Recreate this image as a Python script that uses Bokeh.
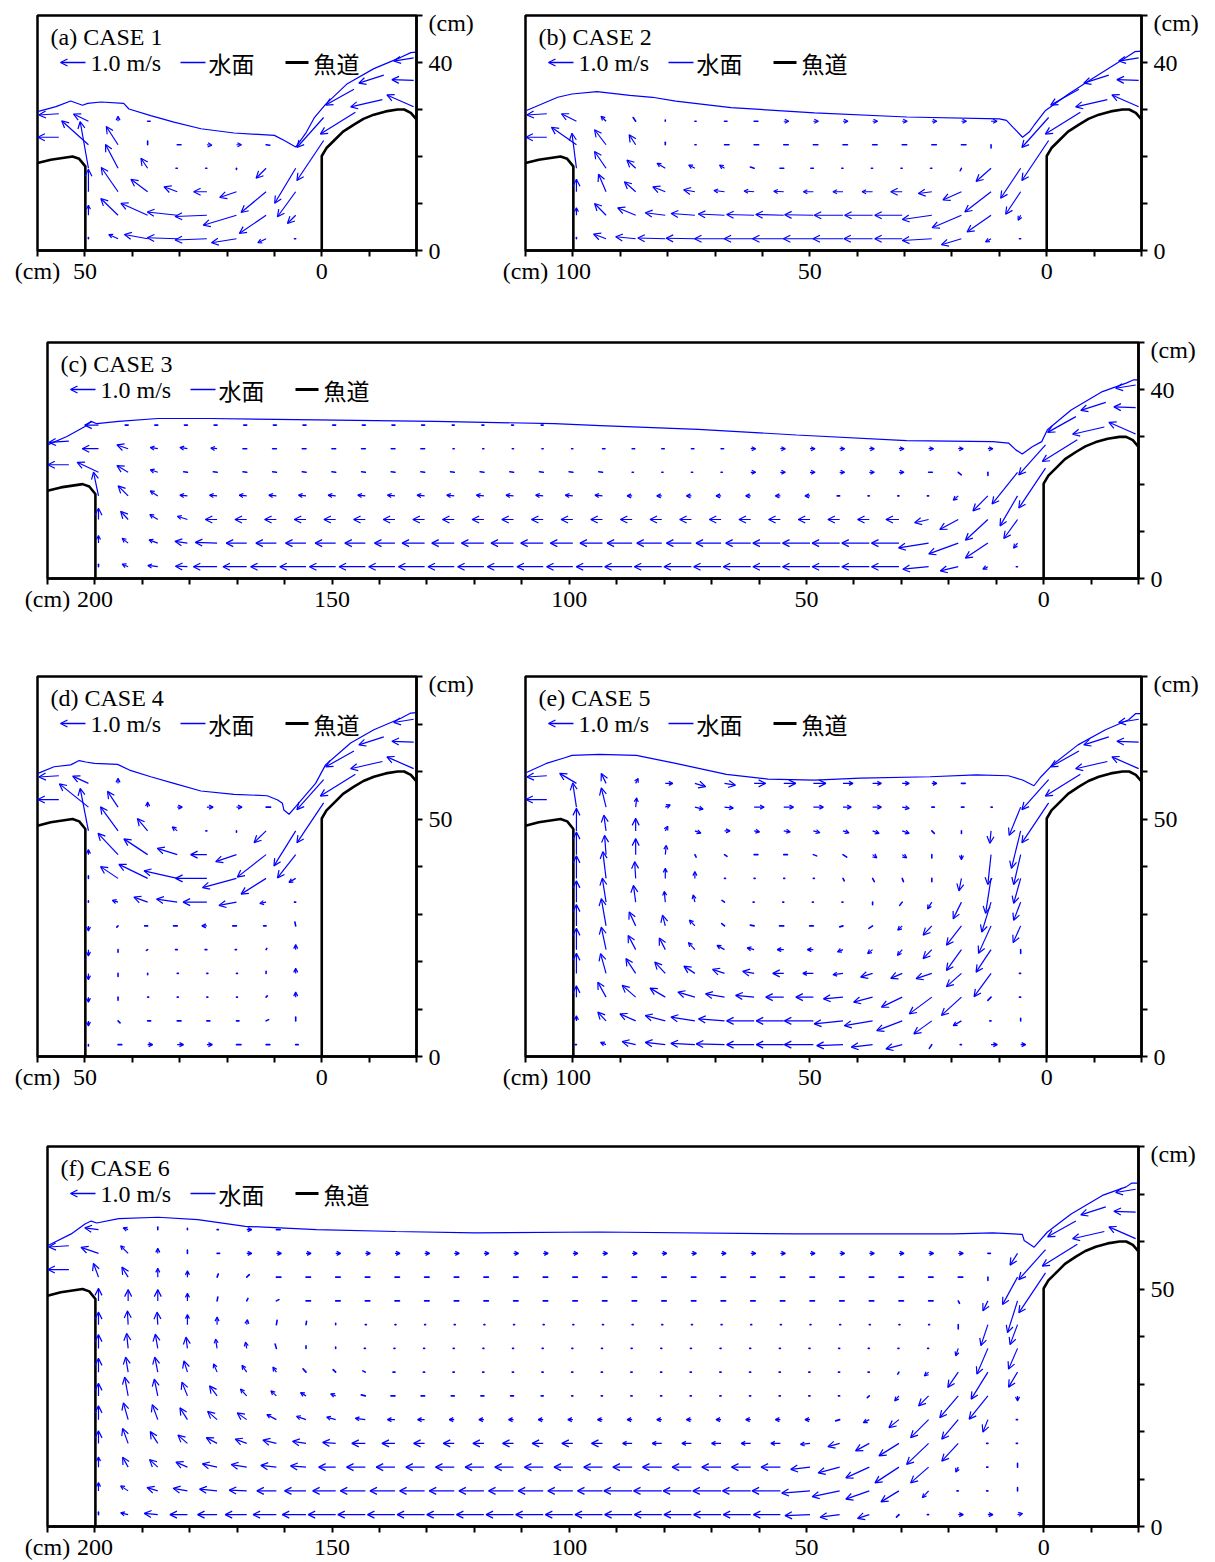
import math
from bokeh.plotting import figure
from bokeh.models import (Range1d, FixedTicker, Label, Arrow, OpenHead, ColumnDataSource,
                          CustomJSTickFormatter)
from bokeh.layouts import column, row
from bokeh.embed import file_html
from bokeh.resources import INLINE

# ---------------------------------------------------------------- data
CASES = ["(a) CASE 1", "(b) CASE 2", "(c) CASE 3", "(d) CASE 4", "(e) CASE 5", "(f) CASE 6"]
POOL_LENGTH = [50, 100, 200, 50, 100, 200]          # cm
WEIR_HEIGHT = [20, 20, 20, 50, 50, 50]              # cm (vertical wall of the fishway)
Y_MAX = [50, 50, 50, 80, 80, 80]
X_TICK_LABELS = [[0, 50], [0, 50, 100], [0, 50, 100, 150, 200],
                 [0, 50], [0, 50, 100], [0, 50, 100, 150, 200]]
Y_TICK_LABELS = [[0, 40], [0, 40], [0, 40], [0, 50], [0, 50], [0, 50]]
UNIT = "(cm)"
LEGEND_LABELS = ["1.0 m/s", "水面", "魚道"]

# measuring grid of the pool vectors (cm)
GRID_X0, GRID_DX = 5.5, 6.25
GRID_Y0, GRID_DY = 2.5, 5.0

# weir crest outline, relative to a 20 cm wall
LEFT_WEIR_DX = [10.0, 7.2, 2.6, 1.2, -0.1]
LEFT_WEIR_Y = [18.6, 19.3, 20.0, 19.5, 17.9]
RIGHT_WEIR_X = [0.0, -1.0, -2.6, -4.5, -6.8, -8.8, -11.0, -13.5, -16.0, -17.4, -18.8, -20.0]
RIGHT_WEIR_Y = [20.1, 21.8, 23.4, 25.3, 26.8, 28.0, 28.9, 29.6, 30.0, 30.0, 29.3, 27.9]

# vectors over the upstream weir (same in every case, relative to a 20 cm wall)
WEIR_X = [-19.4, -19.4, -19.4, -13.1, -12.8, -6.8, -7.1, -0.4, -0.4]
WEIR_Y = [41.0, 36.2, 30.6, 37.3, 32.1, 34.3, 29.4, 28.3, 23.4]
WEIR_U = [-0.8, -0.87, -1.07, -1.0, -1.27, -1.13, -1.4, -1.07, -1.07]
WEIR_V = [-0.13, 0.03, 0.47, -0.32, -0.29, -0.63, -0.87, -1.2, -1.6]
# vectors over the downstream weir (x relative to the pool length)
OUT_DX = [5.5, 5.5]
OUT_Y = [29.1, 24.1]
OUT_U = [-0.8, -0.84]
OUT_V = [-0.05, 0.0]

# pool velocity (m/s) "u,v" per grid point, u positive toward the right of the picture,
# one string per grid row from the bottom (y = 2.5 cm) upward; n = no vector; *k = repeated
A_UV = [
    "-0.05,0 -0.33,-0.16 -1.0,-0.16 -1.27,-0.05 -1.2,0.04 -0.93,0.17 -0.37,0.17 0,0.05",
    "-0.33,-0.33 -1.07,-0.73 -1.33,-0.4 -1.27,-0.05 -1.2,0.13 -1.07,0.48 -0.69,0.67 0,0.4",
    "-0.73,-1.0 -1.0,-0.83 -0.67,-0.23 -0.53,0 -0.53,0.2 -0.67,0.5 -0.67,0.97 0,0.9",
    "-0.84,-1.4 -0.4,-0.4 0,-0.05 -0.05,0 -0.05,0 -0.27,0.4 -0.5,0.95 -0.33,1.87",
    "n 0.15,-0.02 0.2,0 0.2,-0.02 0.15,0 0,0.15 -0.47,0.73 -1.07,0.96",
    "n n n n n 0.1,0 0,0.2 -0.6,0.29",
]
B_UV = [
    "-0.05,0 -0.22,-0.13 -0.8,-0.24 -1.18,-0.07 -1.1,0 -1.15,0 -1.2,0 -1.2,0 -1.25,0 -1.2,0 -1.2,0 -1.15,0.02 -1.1,0.03 -0.8,0.08 -0.5,0.19 0,0.05",
    "-0.1,-0.2 -0.96,-0.67 -1.17,-0.5 -1.18,-0.17 -1.1,0 -1.12,0 -1.15,0 -1.15,0.02 -1.12,0.03 -1.1,0.03 -1.05,0.05 -0.95,0.07 -0.8,0.1 -0.72,0.3 -0.46,0.47 0,0.3",
    "-0.6,-0.9 -1.05,-0.81 -0.74,-0.33 -0.54,-0.07 -0.46,0 -0.42,0 -0.4,0 -0.4,0 -0.4,0.02 -0.4,0.03 -0.42,0.05 -0.45,0.08 -0.5,0.2 -0.45,0.4 -0.3,0.7 0,0.5",
    "-0.8,-1.2 -0.6,-0.53 -0.05,-0.1 -0.05,0 -0.05,0 -0.05,0 -0.05,0 -0.1,0 -0.15,0 -0.15,0.05 -0.2,0.13 -0.25,0.13 -0.33,0.2 -0.35,0.33 -0.46,0.67 -0.18,1.4",
    "n 0,-0.13 0.18,0 0.18,0*8 0.05,0 0,0.1 -0.26,0.4 -0.46,0.6 -1.0,0.7",
    "n 0.24,0 0.2,0*7 0.15,0 0.1,0 0.05,0 0,0.05 -0.1,0.15 -0.2,0.2 -0.6,0.3",
]
C_UV = [
    "-0.05,0 -0.2,-0.1 -0.72,-0.17 -1.03,-0.1 -1.1,0*10 -1.05,0*11 -1.03,0 -0.95,0 -0.95,0 -0.48,0.02 -0.4,0.05 -0.24,0.1 0,0.1",
    "-0.16,-0.2 -0.9,-0.6 -1.18,-0.43 -1.2,-0.19 -1.1,0*5 -1.0,0*5 -0.9,0*7 -0.82,0*6 -0.87,0.03 -0.5,0.07 -0.35,0.13 -0.24,0.19 0,0.3",
    "-0.55,-0.76 -0.9,-0.83 -0.74,-0.4 -0.56,-0.13 -0.52,0 -0.47,0*23 -0.4,0.13 -0.32,0.2 -0.3,0.33 0,0.45",
    "-0.7,-1.2 -0.6,-0.6 -0.2,-0.17 -0.05,0 -0.05,0 -0.05,0 -0.1,0 -0.2,0*7 -0.3,0.03*15 -0.3,0.2 -0.4,0.4 -0.2,0.95",
    "-1.02,-1.27 0,-0.13 0.12,-0.1 0.15,0 0.2,0*6 0.05,0*4 -0.15,0.02*15 -0.3,0.1 -0.45,0.27 -0.85,0.4",
    "n 0.2,0 0.2,0*8 0.1,0*5 -0.05,0*5 -0.15,0*7 -0.25,0.03 -0.3,0.05 -0.3,0.05 -0.45,0.15 -0.65,0",
    "n*16 -0.08,0*4 -0.12,0*11 -0.55,0",
]
D_UV = [
    "0.1,0 0.15,0 0.18,0 0.22,0 0.25,0 0.2,0 0.15,0 0,-0.05",
    "0,0.15 0.1,0.05 0.1,0 0.12,0 0.15,0 0.12,0 0.08,-0.08 0,-0.2",
    "0,0.2 0.05,0.05 0.04,0 0.04,0 0.04,0 0.04,0 0,-0.12 0,-0.2",
    "0,0.2 0,0.08 0.04,0 0.04,0 0.04,0 0,-0.05 0,-0.12 0,-0.25",
    "0,0.2 0.03,0.05 -0.05,0 -0.07,0 -0.07,0 -0.05,-0.03 0,-0.1 0,-0.25",
    "-0.03,0.15 -0.1,0 -0.15,0 -0.2,0 -0.15,0 -0.12,0 -0.05,-0.05 0,-0.2",
    "-0.05,0 -0.25,-0.05 -0.7,-0.13 -0.95,0 -0.83,0.12 -0.55,0.2 -0.23,0.07 0,0.05",
    "-0.27,-0.16 -1.0,-0.63 -1.36,-0.37 -1.25,0 -1.33,0.3 -1.15,0.56 -0.7,0.47 0,0.1",
    "-0.73,-0.93 -1.15,-0.9 -0.83,-0.28 -0.65,0 -0.8,0.25 -0.95,0.63 -0.8,0.85 0,0.2",
    "-0.87,-1.4 -0.48,-0.47 0,-0.05 -0.04,0 -0.2,0.16 -0.41,0.49 -0.7,0.96 -0.33,1.7",
    "n 0.18,0 0.22,0 0.25,0 0.2,0 0,0.2 -0.42,0.63 -1.16,0.93",
    "n n n n n n 0,0.2 -0.63,0.29",
]
E_UV = [
    "0.2,0 0.25,0 -0.05,0 -0.1,-0.15 -0.65,-0.17 -0.85,-0.1 -1.05,-0.04 -1.16,0 -1.1,0 -1.1,0 -1.13,0.03 -0.96,0.05 -0.8,0.09 -0.54,0.12 -0.22,0.09 -0.05,0",
    "0,0.1 -0.05,0 -0.33,-0.19 -0.72,-0.52 -1.02,-0.39 -1.13,-0.19 -1.15,-0.12 -1.16,0 -1.1,0 -1.1,0 -1.04,0.08 -0.96,0.15 -0.8,0.21 -0.63,0.28 -0.33,0.35 0,0.2",
    "-0.05,0 -0.13,-0.13 -0.8,-0.73 -0.9,-0.67 -0.83,-0.4 -0.76,-0.2 -0.78,-0.07 -0.7,0 -0.72,0 -0.74,0.07 -0.76,0.13 -0.68,0.2 -0.61,0.36 -0.54,0.47 -0.33,0.6 0,0.45",
    "-0.05,0 -0.68,-0.93 -0.6,-0.53 -0.63,-0.21 -0.46,-0.2 -0.48,-0.15 -0.4,-0.05 -0.42,0 -0.44,0 -0.46,0.08 -0.48,0.16 -0.44,0.29 -0.42,0.45 -0.39,0.59 -0.22,0.79 0,0.8",
    "0,-0.15 -0.6,-0.9 -0.6,-0.83 -0.35,-0.36 -0.19,-0.23 -0.2,-0.16 -0.22,-0.09 -0.24,0 -0.26,0 -0.28,0.07 -0.3,0.17 -0.26,0.28 -0.24,0.47 -0.3,0.57 -0.19,0.9 0,0.85",
    "-0.3,-0.67 -0.5,-1.1 -0.6,-0.77 -0.35,-0.37 -0.18,-0.17 -0.15,-0.1 -0.13,-0.04 -0.15,0 -0.17,0 -0.15,0.03 -0.11,0.09 -0.22,0.23 -0.11,0.43 -0.26,0.56 -0.19,1.09 0,0.85",
    "-0.28,-0.73 -0.37,-1.2 -0.33,-0.67 -0.17,-0.27 -0.1,-0.13 0,-0.1 -0.04,0 -0.04,0 -0.04,0 -0.04,0 -0.1,0.07 -0.07,0.29 -0.04,0.43 -0.09,0.67 -0.15,0.96 0,0.85",
    "-0.28,-1.0 -0.22,-1.4 -0.1,-0.5 0,-0.13 0.05,-0.13 0.07,-0.13 0.05,-0.1 0.04,0 0.04,0 0.04,0 0.04,0 0,0.27 0,0.4 -0.04,0.67 -0.13,1.07 0,0.9",
    "-0.28,-1.2 -0.13,-1.2 0,-0.2 0,-0.13 0.18,-0.13 0.17,-0.13 0.15,-0.1 0.13,-0.05 0.15,0 0.15,0 0.1,-0.07 0.05,-0.1 0.04,0.37 0,0.64 -0.06,0.77 0,0.9",
    "-0.37,-1.5 -0.05,-0.5 0,-0.1 0.1,-0.1 0.28,-0.1 0.26,-0.1 0.24,-0.08 0.26,-0.07 0.26,-0.04 0.22,-0.04 0.22,0 0.24,-0.09 0.1,0.19 0,0.5 -0.09,0.63 0,0.9",
    "-0.46,-1.13 0.05,0 0.1,0 0.1,0 0.28,-0.05 0.35,0 0.33,0 0.4,0 0.39,0 0.4,0 0.35,-0.04 0.33,-0.08 0.2,0.09 0.04,0.37 -0.19,0.77 -0.15,0.97",
    "n n 0.15,0 0.2,0 0.28,0 0.35,0 0.4,0 0.5,0 0.48,0 0.46,0 0.44,-0.07 0.43,-0.13 0.3,0 0.1,0.2 -0.19,0.4 -0.67,0.4",
]
F_UV = [
    "0.2,0.04 0.2,0 0.2,0 -0.05,0 -0.1,-0.1 -0.47,-0.15 -0.78,-0.1 -1.0,-0.04 -1.08,0 -1.1,0*15 -0.95,0 -0.93,0 -0.86,0 -0.78,0 -0.7,0 -0.54,0.05 -0.3,0.07 0,0.1",
    "0,0.13 -0.05,0 -0.05,0 -0.25,-0.27 -0.72,-0.44 -0.94,-0.33 -1.1,-0.23 -1.13,-0.09 -1.13,0*6 -1.0,0*9 -0.92,0 -0.86,0 -0.78,0 -0.7,0.03 -0.7,0.07 -0.57,0.1 -0.43,0.13 -0.3,0.2 0,0.33",
    "0,0.15 -0.05,0 -0.1,-0.2 -0.72,-0.63 -0.96,-0.63 -0.94,-0.43 -0.86,-0.23 -0.77,-0.09 -0.77,0*6 -0.75,0*9 -0.68,0 -0.62,0.05 -0.62,0.07 -0.62,0.1 -0.59,0.13 -0.46,0.2 -0.33,0.3 -0.22,0.4 0,0.4",
    "-0.05,0 -0.05,0 -0.66,-0.71 -0.88,-0.84 -0.8,-0.5 -0.55,-0.3 -0.47,-0.13 -0.38,-0.04 -0.38,0*6 -0.44,0*7 -0.52,0 -0.54,0 -0.52,0.04 -0.54,0.08 -0.54,0.13 -0.46,0.17 -0.43,0.23 -0.38,0.33 -0.3,0.47 -0.22,0.6 0,0.5",
    "-0.05,0 -0.2,-0.5 -0.66,-0.78 -0.72,-0.72 -0.4,-0.32 -0.24,-0.12 -0.16,-0.05 -0.2,0*13 -0.28,0 -0.3,0 -0.4,0.05 -0.36,0.1 -0.38,0.13 -0.38,0.2 -0.38,0.27 -0.38,0.33 -0.3,0.47 -0.22,0.6 -0.19,0.67 0,0.55",
    "0,-0.2 -0.75,-0.93 -0.74,-0.87 -0.4,-0.4 -0.17,-0.2 -0.08,-0.07 -0.05,0*10 -0.08,0 -0.12,0*3 -0.14,0 -0.16,0 -0.16,0.04 -0.2,0.08 -0.22,0.13 -0.22,0.2 -0.25,0.27 -0.3,0.4 -0.22,0.55 -0.14,0.67 -0.14,0.75 0,0.5",
    "-0.36,-0.6 -0.67,-1.08 -0.42,-0.61 -0.17,-0.15 -0.05,-0.08 -0.05,0*16 -0.08,0 -0.1,0.05 -0.1,0.1 -0.12,0.13 -0.14,0.2 -0.19,0.27 -0.14,0.33 -0.14,0.45 -0.12,0.6 -0.1,0.6 0,0.55",
    "-0.36,-0.83 -0.44,-1.03 -0.1,-0.3 -0.04,0*20 0,0.05 0,0.1 -0.05,0.17 -0.05,0.25 -0.06,0.37 -0.06,0.45 -0.1,0.57 -0.06,0.6 0,0.55",
    "-0.3,-0.8 -0.28,-0.84 0,-0.17 0.04,0*20 0,0.05 0.02,0.13 0.03,0.17 0.03,0.2 0,0.3 0,0.4 -0.03,0.5 -0.03,0.55 0,0.5",
    "-0.4,-1.27 -0.2,-0.4 0.05,-0.1 0.18,0*22 0.1,0.05 0.05,0.1 0.03,0.15 0,0.3 0,0.45 0,0.45 0,0.5",
    "-0.6,-1.1 0,-0.13 0.18,0*24 0.1,0.1 0.05,0.13 0,0.25 0,0.35 -0.25,0.4 -0.2,0.55",
    "-0.3,-0.47 0.1,0 0.2,0*25 0.1,0 0,0.13 0,0.2 -0.3,0.3 -0.7,0.24",
    "n*25 0.15,0 0.2,0 0.05,0 0,0.05 0,0.1 -0.2,0.07 -0.55,0.07",
]

# water surface (cm)
SURF_A_X = [59.8, 56.1, 53.0, 50.5, 49.4, 46.6, 41.8, 40.7, 36.1, 31.2, 25.5, 18.5, 10.0, 7.9, 5.5, 3.4, 1.6, -0.8, -5.4, -11.0, -16.7, -18.8, -20.0]
SURF_A_Y = [29.6, 30.6, 31.8, 30.9, 31.3, 31.6, 31.3, 30.1, 28.7, 27.3, 25.9, 25.0, 24.5, 23.4, 22.0, 24.9, 28.2, 31.1, 35.5, 38.7, 41.1, 42.1, 42.2]
SURF_B_X = [109.8, 103.2, 100.2, 94.9, 88.0, 83.2, 78.3, 66.6, 49.0, 29.5, 10.0, 8.5, 7.1, 5.1, 3.7, 2.7, 0.25, -4.6, -9.5, -16.3, -18.6, -20.0]
SURF_B_Y = [29.8, 32.6, 33.3, 33.8, 33.0, 32.6, 31.8, 30.4, 29.3, 28.4, 28.0, 27.7, 26.2, 24.1, 25.2, 26.6, 29.8, 33.3, 36.5, 40.8, 42.3, 42.4]
SURF_C_X = [210.0, 205.9, 202.1, 200.8, 199.6, 195.0, 186.7, 175.8, 153.3, 128.3, 103.2, 93.5, 72.8, 52.1, 28.9, 10.7, 7.4, 5.8, 4.5, 2.4, 0.4, -0.8, -5.8, -12.4, -17.4, -19.0, -20.0]
SURF_C_Y = [28.3, 30.1, 32.2, 33.3, 32.8, 33.3, 33.9, 33.9, 33.6, 33.3, 32.8, 32.4, 31.6, 30.4, 29.2, 29.0, 28.7, 27.2, 26.4, 27.9, 29.0, 31.5, 35.7, 39.6, 41.4, 42.1, 42.1]
SURF_D_X = [59.9, 56.5, 53.0, 51.2, 49.8, 48.0, 43.1, 40.6, 36.1, 31.2, 25.5, 18.5, 11.5, 9.3, 8.3, 8.0, 6.9, 5.5, 1.3, -0.8, -6.1, -11.0, -16.7, -18.8, -20.0]
SURF_D_Y = [59.6, 61.0, 61.4, 62.3, 62.0, 61.7, 61.5, 60.3, 58.9, 57.5, 55.9, 55.2, 54.9, 54.0, 53.3, 51.9, 51.0, 52.6, 57.5, 61.4, 66.0, 68.8, 71.2, 72.3, 72.4]
SURF_E_X = [109.8, 105.6, 101.7, 100.2, 94.4, 86.6, 78.3, 67.6, 58.8, 49.0, 39.3, 24.6, 14.9, 8.1, 5.1, 2.7, 1.2, -1.2, -6.6, -12.4, -17.3, -18.8, -20.0]
SURF_E_Y = [59.8, 61.7, 62.9, 63.4, 63.6, 63.4, 61.7, 59.4, 58.4, 58.2, 58.6, 58.9, 59.3, 59.1, 58.2, 57.0, 58.9, 61.4, 65.6, 68.8, 70.9, 72.2, 72.2]
SURF_F_X = [210.0, 205.0, 202.1, 200.8, 199.6, 195.0, 186.7, 178.3, 168.3, 153.3, 136.6, 119.9, 93.5, 52.1, 19.0, 10.7, 4.5, 4.1, 2.0, -0.8, -5.8, -12.4, -17.4, -18.6, -20.0]
SURF_F_Y = [59.1, 61.6, 63.7, 64.3, 63.9, 64.8, 65.1, 64.6, 63.2, 62.5, 62.1, 61.8, 62.0, 61.6, 61.6, 61.8, 61.5, 60.2, 58.8, 62.0, 65.8, 69.7, 71.5, 72.3, 72.3]

# ---------------------------------------------------------------- style
BLUE = "#0000ff"
SERIF = "Liberation Serif"
CJK = "Noto Sans CJK JP"
FONT_SIZE = "24px"
ARROW_PX = 25.0      # screen length of a 1.0 m/s vector


def expand(rowstr):
    out = []
    for tok in rowstr.split():
        rep = 1
        if "*" in tok:
            tok, r = tok.split("*")
            rep = int(r)
        if tok == "n":
            val = None
        else:
            u, v = tok.split(",")
            val = (float(u), float(v))
        out.extend([val] * rep)
    return out


def make_panel(i, uv_rows, surf_x, surf_y, W, Hh, bl, br, bt, bb):
    L = POOL_LENGTH[i]
    H = Y_MAX[i]
    yo = WEIR_HEIGHT[i] - 20
    fw = W - bl - br
    fh = Hh - bt - bb
    kx = fw / (L + 30.0)
    ky = fh / float(H)

    def cx(px):
        return (L + 10) - px / kx

    def cy(py):
        return H - py / ky

    p = figure(width=W, height=Hh, x_range=Range1d(L + 10, -20), y_range=Range1d(0, H),
               output_backend="svg", toolbar_location=None, title=None,
               y_axis_location="right", min_border_left=bl, min_border_right=br,
               min_border_top=bt, min_border_bottom=bb)
    p.xgrid.visible = False
    p.ygrid.visible = False
    p.outline_line_color = "black"
    p.outline_line_width = 2.5
    p.outline_line_alpha = 1.0
    p.background_fill_color = "white"
    p.border_fill_color = "white"

    xa = p.xaxis[0]
    ya = p.yaxis[0]
    # tick marks are the minor ticks; major ticks only carry the labels
    unit_y = round(H - 8.0 / ky, 2)
    xa.ticker = FixedTicker(ticks=X_TICK_LABELS[i] + [L + 10],
                            minor_ticks=list(range(-20, L + 11, 10)))
    ya.ticker = FixedTicker(ticks=Y_TICK_LABELS[i] + [unit_y],
                            minor_ticks=list(range(0, H + 1, 10)))
    xa.formatter = CustomJSTickFormatter(
        code="return (tick > %s) ? '%s' : tick.toFixed(0);" % (L + 5, UNIT))
    ya.formatter = CustomJSTickFormatter(
        code="return (tick > %s) ? '%s' : tick.toFixed(0);" % (H - 5, UNIT))
    for ax in (xa, ya):
        ax.axis_line_color = "black"
        ax.axis_line_width = 2.5
        ax.major_tick_line_color = None
        ax.minor_tick_line_color = "black"
        ax.minor_tick_line_width = 2
        ax.major_tick_in = 0
        ax.major_tick_out = 0
        ax.minor_tick_in = 0
        ax.minor_tick_out = 6
        ax.major_label_text_font = SERIF
        ax.major_label_text_font_size = FONT_SIZE
        ax.major_label_text_color = "black"
    xa.major_label_standoff = 1
    ya.major_label_standoff = 6

    # fishway
    lx = [L + d for d in LEFT_WEIR_DX] + [L - 0.1]
    ly = [y + yo for y in LEFT_WEIR_Y] + [0]
    p.line(lx, ly, line_color="black", line_width=2.6)
    rx = [0.0] + RIGHT_WEIR_X
    ry = [0.0] + [y + yo for y in RIGHT_WEIR_Y]
    p.line(rx, ry, line_color="black", line_width=2.6)

    # water surface
    p.line(surf_x, surf_y, line_color=BLUE, line_width=1.2)

    # vectors
    groups = {"big": ([], [], [], []), "mid": ([], [], [], []), "tiny": ([], [], [], [])}

    def add(x, y, u, v):
        ln = ARROW_PX * math.hypot(u, v)
        g = "big" if ln >= 11 else ("mid" if ln >= 5 else "tiny")
        a = groups[g]
        a[0].append(x)
        a[1].append(y)
        a[2].append(x - u * ARROW_PX / kx)
        a[3].append(y + v * ARROW_PX / ky)

    ncols = int(round((L - GRID_X0) / GRID_DX)) + 1
    for j, r in enumerate(uv_rows):
        vals = expand(r)
        vals = (vals + [None] * ncols)[:ncols]
        for k, val in enumerate(vals):
            if val is None:
                continue
            add(GRID_X0 + GRID_DX * k, GRID_Y0 + GRID_DY * j, val[0], val[1])
    for x, y, u, v in zip(WEIR_X, WEIR_Y, WEIR_U, WEIR_V):
        add(x, y + yo, u, v)
    for dx, y, u, v in zip(OUT_DX, OUT_Y, OUT_U, OUT_V):
        add(L + dx, y + yo, u, v)

    for g, hs in (("big", 7), ("mid", 4)):
        a = groups[g]
        if not a[0]:
            continue
        src = ColumnDataSource(dict(x0=a[0], y0=a[1], x1=a[2], y1=a[3]))
        p.add_layout(Arrow(end=OpenHead(size=hs, line_color=BLUE, line_width=1.2),
                           x_start="x0", y_start="y0", x_end="x1", y_end="y1",
                           source=src, line_color=BLUE, line_width=1.2))
    a = groups["tiny"]
    if a[0]:
        p.segment(a[0], a[1], a[2], a[3], line_color=BLUE, line_width=1.6, line_cap="round")

    # legend (drawn at frame-relative pixel offsets)
    p.add_layout(Arrow(end=OpenHead(size=7, line_color=BLUE, line_width=1.3),
                       x_start=cx(48), y_start=cy(47), x_end=cx(23), y_end=cy(47),
                       line_color=BLUE, line_width=1.3))
    p.line([cx(143), cx(168)], [cy(47), cy(47)], line_color=BLUE, line_width=1.6)
    p.line([cx(248), cx(271)], [cy(47), cy(47)], line_color="black", line_width=3)
    p.add_layout(Label(x=cx(53), y=cy(47), text=LEGEND_LABELS[0], text_font=SERIF,
                       text_font_size=FONT_SIZE, text_baseline="middle", text_color="black"))
    p.add_layout(Label(x=cx(171), y=cy(47), text=LEGEND_LABELS[1], text_font=CJK,
                       text_font_size="23px", text_baseline="middle", text_color="black"))
    p.add_layout(Label(x=cx(276), y=cy(47), text=LEGEND_LABELS[2], text_font=CJK,
                       text_font_size="23px", text_baseline="middle", text_color="black"))
    p.add_layout(Label(x=cx(13), y=cy(21), text=CASES[i], text_font=SERIF,
                       text_font_size=FONT_SIZE, text_baseline="middle", text_color="black"))
    return p


pa = make_panel(0, A_UV, SURF_A_X, SURF_A_Y, 490, 300, 37, 74, 15, 50)
pb = make_panel(1, B_UV, SURF_B_X, SURF_B_Y, 723, 300, 35, 72, 15, 50)
pc = make_panel(2, C_UV, SURF_C_X, SURF_C_Y, 1213, 330, 47, 75, 42, 52)
pd = make_panel(3, D_UV, SURF_D_X, SURF_D_Y, 490, 468, 37, 74, 46, 42)
pe = make_panel(4, E_UV, SURF_E_X, SURF_E_Y, 723, 468, 35, 72, 46, 42)
pf = make_panel(5, F_UV, SURF_F_X, SURF_F_Y, 1213, 464, 47, 75, 48, 36)

layout = column(row(pa, pb), pc, row(pd, pe), pf)
open("out.html", "w").write(file_html(layout, INLINE))
